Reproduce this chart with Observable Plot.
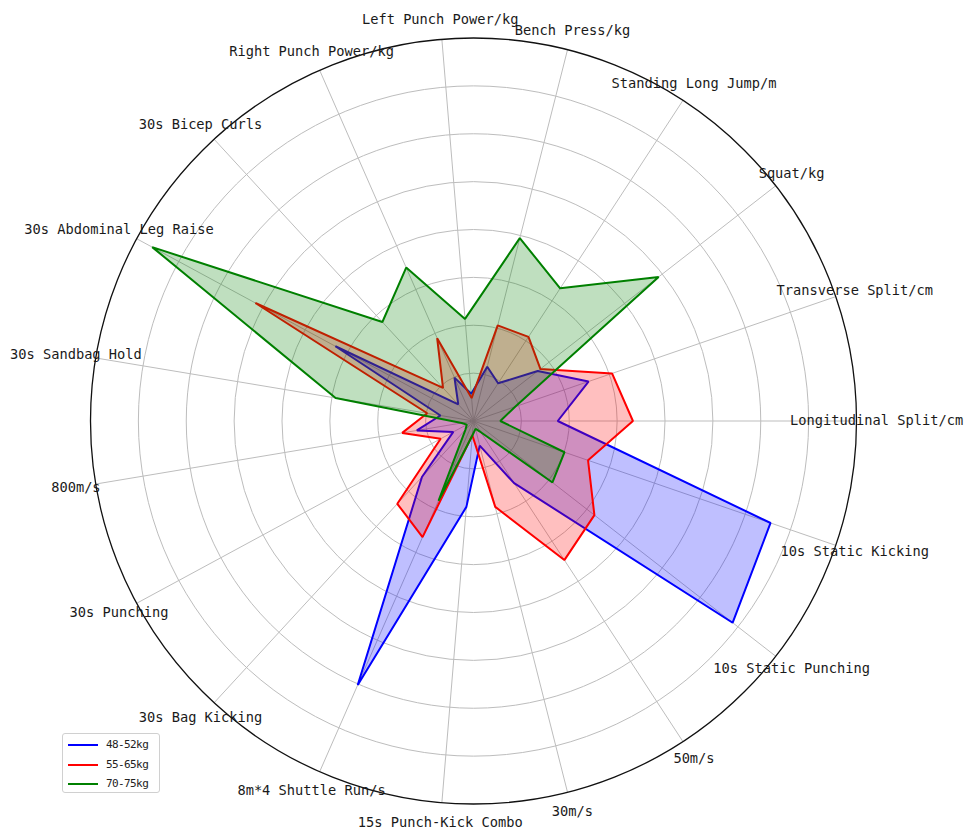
<!DOCTYPE html>
<html>
<head>
<meta charset="utf-8">
<script src="https://cdn.jsdelivr.net/npm/d3@7"></script>
<script src="https://cdn.jsdelivr.net/npm/@observablehq/plot@0.6"></script>
<style>
  html, body { margin: 0; padding: 0; background: #fff; }
  #wrap { position: relative; width: 966px; height: 830px; }
  #legend {
    position: absolute; left: 62px; top: 733px; width: 96px; height: 58px;
    border: 1px solid #d0d0d0; border-radius: 3px; background: rgba(255,255,255,0.85);
    font-family: "DejaVu Sans Mono", monospace; font-size: 11px; color: #222;
  }
  .item { position: absolute; left: 0; height: 14px; width: 96px; }
  .item .sw { position: absolute; left: 5px; top: 6px; width: 30px; height: 0; border-top: 2px solid; }
  .item .lb { position: absolute; left: 43px; top: 0; line-height: 14px; letter-spacing: -0.6px; }
</style>
</head>
<body>
<div id="wrap"><div id="chart"></div><div id="legend"></div></div>
<script>
// Categories, counter-clockwise starting at the right (0°)
const categories = [
  "Longitudinal Split/cm", "Transverse Split/cm", "Squat/kg", "Standing Long Jump/m",
  "Bench Press/kg", "Left Punch Power/kg", "Right Punch Power/kg", "30s Bicep Curls",
  "30s Abdominal Leg Raise", "30s Sandbag Hold", "800m/s", "30s Punching",
  "30s Bag Kicking", "8m*4 Shuttle Run/s", "15s Punch-Kick Combo", "30m/s",
  "50m/s", "10s Static Punching", "10s Static Kicking"
];
const seriesNames = ["48-52kg", "55-65kg", "70-75kg"];
const seriesColors = ["#0000ff", "#ff0000", "#008000"];
const values48_52 = [1.76, 2.54, 1.70, 0.94, 1.17, 0.57, 0.99, 0.47, 3.28, 0.70, 1.20, 0.48, 1.59, 6.02, 1.80, 0.53, 1.55, 6.86, 6.56];
const values55_65 = [3.33, 3.06, 1.77, 2.10, 2.06, 0.48, 1.89, 0.94, 5.18, 0.98, 1.51, 0.78, 2.35, 2.65, 0.30, 1.85, 3.47, 3.20, 2.53];
const values70_75 = [0.56, 0.92, 4.90, 3.31, 3.94, 2.14, 3.50, 2.81, 7.63, 2.92, 0.25, 0.16, 0.25, 1.82, 0.31, 0.17, 0.28, 2.09, 2.01];
const ringTicks = [1, 2, 3, 4, 5, 6, 7];
const rMax = 8;

const n = categories.length;
const angle = i => (2 * Math.PI * i) / n;
const allValues = [values48_52, values55_65, values70_75];

const points = allValues.map((vals, s) =>
  vals.map((v, i) => ({series: seriesNames[s], x: v * Math.cos(angle(i)), y: v * Math.sin(angle(i))}))
);
const spokes = categories.map((c, i) => ({c, x2: rMax * Math.cos(angle(i)), y2: rMax * Math.sin(angle(i))}));
const labelR = 8.42;
const labels = categories.map((c, i) => ({c, x: labelR * Math.cos(angle(i)), y: labelR * Math.sin(angle(i))}));

const seriesMarks = [];
points.forEach((pts, s) => {
  seriesMarks.push(Plot.line(pts, {x: "x", y: "y", curve: "linear-closed", stroke: seriesColors[s], strokeWidth: 2, strokeLinejoin: "miter"}));
  seriesMarks.push(Plot.line(pts, {x: "x", y: "y", curve: "linear-closed", fill: seriesColors[s], fillOpacity: 0.25, stroke: "none"}));
});

const chart = Plot.plot({
  width: 966,
  height: 830,
  margin: 0,
  style: {background: "#fff", overflow: "visible"},
  x: {domain: [-rMax, rMax], range: [90, 856], axis: null},
  y: {domain: [-rMax, rMax], range: [803.5, 37.5], axis: null},
  r: {type: "linear", domain: [0, rMax], range: [0, 383]},
  marks: [
    Plot.dot(ringTicks, {x: d => 0, y: d => 0, r: d => d, fill: "none", stroke: "#bdbdbd", strokeWidth: 1}),
    Plot.link(spokes, {x1: d => 0, y1: d => 0, x2: "x2", y2: "y2", stroke: "#bdbdbd", strokeWidth: 1}),
    ...seriesMarks,
    Plot.dot([rMax], {x: d => 0, y: d => 0, r: d => d, fill: "none", stroke: "#111", strokeWidth: 1.3}),
    Plot.text(labels, {x: "x", y: "y", text: "c", fontSize: 13.7, fontFamily: "DejaVu Sans Mono, monospace", fill: "#1a1a1a"})
  ]
});
document.getElementById("chart").appendChild(chart);

// Legend
const legend = document.getElementById("legend");
seriesNames.forEach((name, i) => {
  const item = document.createElement("div");
  item.className = "item";
  item.style.top = (4 + i * 19.5) + "px";
  const sw = document.createElement("div");
  sw.className = "sw";
  sw.style.borderTopColor = seriesColors[i];
  const lb = document.createElement("div");
  lb.className = "lb";
  lb.textContent = name;
  item.appendChild(sw);
  item.appendChild(lb);
  legend.appendChild(item);
});
</script>
</body>
</html>
